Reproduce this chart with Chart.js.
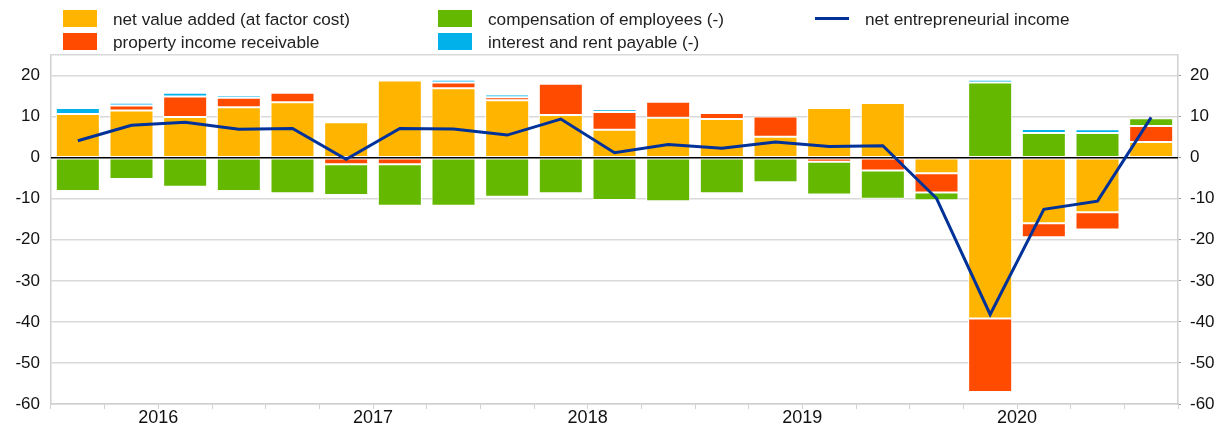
<!DOCTYPE html>
<html>
<head>
<meta charset="utf-8">
<script src="https://cdn.jsdelivr.net/npm/chart.js@4"></script>
<style>
  html, body { margin: 0; padding: 0; background: #fff; }
  #wrap { position: relative; width: 1226px; height: 430px; }
  canvas { position: absolute; left: 0; top: 0; }
  .lg { position: absolute; font-family: Arial, "Liberation Sans", sans-serif; font-size: 17.2px; color: #222; white-space: nowrap; line-height: 18px; }
  .sw { position: absolute; width: 34px; height: 17px; }
  .ln { position: absolute; width: 34px; height: 3px; }
</style>
</head>
<body>
<div id="wrap">
  <canvas id="c" width="1226" height="430"></canvas>
  <div id="legend"></div>
</div>
<script>
// ---- data ----
const quarters = ["2016Q1","2016Q2","2016Q3","2016Q4","2017Q1","2017Q2","2017Q3","2017Q4",
                  "2018Q1","2018Q2","2018Q3","2018Q4","2019Q1","2019Q2","2019Q3","2019Q4",
                  "2020Q1","2020Q2","2020Q3","2020Q4","2021Q1"];
const netValueAdded = [10.6, 11.5, 9.9, 12.3, 13.5, 8.6, 18.8, 16.9, 14.0, 10.4, 6.8, 9.7, 9.4, 5.1, 12.1, 13.3, -3.8, -39.2, -16.0, -13.3, 3.8];
const propertyIncome = [0, 1.2, 5.0, 2.3, 2.3, -1.6, -1.6, 1.4, 0.7, 7.6, 4.3, 3.9, 1.5, 4.9, -1.0, -3.1, -4.7, -17.9, -3.4, -4.2, 3.9];
const compensation = [-8.1, -5.2, -7.1, -8.1, -8.7, -7.5, -10.1, -11.7, -9.5, -8.7, -10.3, -10.6, -8.7, -6.0, -8.0, -6.9, -1.9, 18.3, 6.0, 6.0, 1.9];
const interestRent = [1.5, 0.7, 0.9, 0.6, 0, 0, 0, 0.7, 0.7, 0.3, 0.7, 0.4, 0, 0, -0.3, 0, 0.6, 0.7, 1.0, 0.9, 0];
const entrepreneurialIncome = [4.1, 7.9, 8.6, 6.9, 7.1, -0.4, 7.1, 7.0, 5.5, 9.4, 1.2, 3.2, 2.3, 3.8, 2.7, 2.9, -9.9, -38.2, -12.6, -10.6, 9.8];
const yTicks = [-60, -50, -40, -30, -20, -10, 0, 10, 20];

const labels = {
  nva: "net value added (at factor cost)",
  prop: "property income receivable",
  comp: "compensation of employees (-)",
  int: "interest and rent payable (-)",
  nei: "net entrepreneurial income"
};
const colors = { nva: "#FFB400", prop: "#FF4B00", comp: "#65B800", int: "#00B1EA", nei: "#003299" };

// ---- legend (HTML text) ----
const legendItems = [
  { key: "nva", x: 63, y: 10, kind: "box" },
  { key: "prop", x: 63, y: 33, kind: "box" },
  { key: "comp", x: 438, y: 10, kind: "box" },
  { key: "int", x: 438, y: 33, kind: "box" },
  { key: "nei", x: 815, y: 10, kind: "line" }
];
const lg = document.getElementById("legend");
legendItems.forEach(it => {
  const m = document.createElement("div");
  if (it.kind === "box") {
    m.className = "sw"; m.style.left = it.x + "px"; m.style.top = it.y + "px";
  } else {
    m.className = "ln"; m.style.left = it.x + "px"; m.style.top = (it.y + 7) + "px";
  }
  m.style.background = colors[it.key];
  lg.appendChild(m);
  const t = document.createElement("div");
  t.className = "lg"; t.textContent = labels[it.key];
  t.style.left = (it.x + 50) + "px"; t.style.top = (it.y) + "px";
  lg.appendChild(t);
});

// ---- chart ----
const FAMILY = 'Arial, "Liberation Sans", sans-serif';
const bw = ctx => (ctx.raw === 0 ? 0 : 1);
function barDs(label, data, color) {
  return { type: "bar", label, data, backgroundColor: color, borderColor: "#ffffff",
           borderWidth: bw, borderSkipped: false, stack: "s", order: 1,
           barPercentage: 0.82, categoryPercentage: 1.0 };
}

const zeroLine = {
  id: "zeroLine",
  beforeDatasetDraw(chart, args) {
    if (args.index !== 4) return;
    const y = chart.scales.y.getPixelForValue(0);
    const ctx = chart.ctx;
    ctx.save();
    ctx.strokeStyle = "#000"; ctx.lineWidth = 1.5;
    ctx.beginPath();
    ctx.moveTo(chart.chartArea.left, y); ctx.lineTo(chart.chartArea.right, y);
    ctx.stroke();
    ctx.restore();
  }
};

new Chart(document.getElementById("c"), {
  data: {
    labels: quarters,
    datasets: [
      barDs(labels.nva, netValueAdded, colors.nva),
      barDs(labels.prop, propertyIncome, colors.prop),
      barDs(labels.comp, compensation, colors.comp),
      barDs(labels.int, interestRent, colors.int),
      { type: "line", label: labels.nei, data: entrepreneurialIncome, borderColor: colors.nei,
        backgroundColor: colors.nei, borderWidth: 3, pointRadius: 0, tension: 0, order: 0, yAxisID: "y" }
    ]
  },
  options: {
    responsive: false, animation: false, devicePixelRatio: 1,
    layout: { padding: { top: 55, left: 0, right: 0, bottom: 0 } },
    plugins: { legend: { display: false }, tooltip: { enabled: false } },
    scales: {
      x: {
        stacked: true, offset: true,
        grid: { display: true, drawOnChartArea: false, drawTicks: true, tickLength: 5, color: "#d0d0d0", offset: true },
        border: { display: true, color: "#d0d0d0", width: 1.5 },
        ticks: {
          autoSkip: false, maxRotation: 0, minRotation: 0, padding: -2, color: "#111",
          font: { family: FAMILY, size: 18 },
          labelOffset: 26.8,
          callback: (v, i) => quarters[i].endsWith("Q2") ? quarters[i].slice(0, 4) : ""
        },
        afterFit: s => { s.height = 26; }
      },
      y: {
        stacked: true, position: "left", min: -60, max: 25,
        afterBuildTicks: s => { s.ticks = yTicks.concat([25]).map(v => ({ value: v })); },
        grid: { color: ctx => (ctx.tick && ctx.tick.value === 0 ? "rgba(0,0,0,0)" : "#d9d9d9"), lineWidth: 1.5, drawTicks: false },
        border: { display: true, color: "#d0d0d0", width: 1.5 },
        ticks: { padding: 11, color: "#111", font: { family: FAMILY, size: 17 }, callback: v => (v === 25 ? "" : v) },
        afterFit: s => { s.width = 51; }
      },
      y2: {
        position: "right", min: -60, max: 25,
        afterBuildTicks: s => { s.ticks = yTicks.map(v => ({ value: v })); },
        grid: { drawOnChartArea: false, drawTicks: true, tickLength: 3, color: "#999" },
        border: { display: true, color: "#d0d0d0", width: 1.5 },
        ticks: { padding: 9, color: "#111", font: { family: FAMILY, size: 17 } },
        afterFit: s => { s.width = 48; }
      }
    }
  },
  plugins: [zeroLine]
});
</script>
</body>
</html>
